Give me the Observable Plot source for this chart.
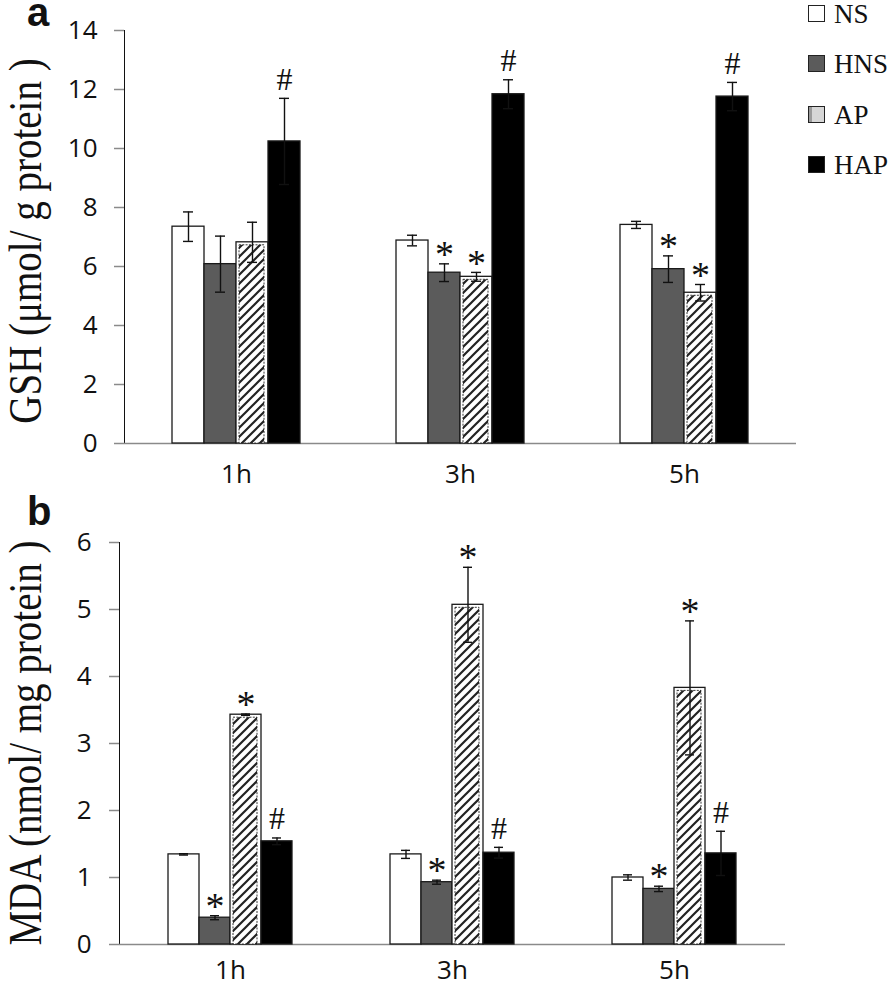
<!DOCTYPE html>
<html>
<head>
<meta charset="utf-8">
<script src="https://cdn.jsdelivr.net/npm/d3@7"></script>
<script src="https://cdn.jsdelivr.net/npm/@observablehq/plot@0.6"></script>
<style>
  html, body { margin: 0; padding: 0; background: #fff; }
  #wrap { position: relative; width: 896px; height: 988px; overflow: hidden; background: #fff; }
  .panel { position: absolute; left: 0; }
  .letter { position: absolute; font-family: "Liberation Sans", Arial, sans-serif; font-weight: bold; font-size: 40px; line-height: 16px; color: #111; }
  .ylab { position: absolute; font-family: "Liberation Serif", "Times New Roman", serif; font-size: 39px; line-height: 39px; white-space: nowrap; color: #111; transform: translate(-50%, -50%) rotate(-90deg) scale(1, 1.18); }
  .legend { position: absolute; left: 808px; top: 0; font-family: "Liberation Serif", "Times New Roman", serif; font-size: 27px; color: #111; }
  .legend .row { position: absolute; left: 0; height: 30px; width: 88px; }
  .legend .sw { position: absolute; left: 0; width: 15px; height: 15px; border: 1.2px solid #222; }
  .legend .lb { position: absolute; left: 26px; line-height: 30px; white-space: nowrap; }
</style>
</head>
<body>
<svg width="0" height="0" style="position:absolute">
  <defs>
    <pattern id="hatch" patternUnits="userSpaceOnUse" width="9" height="9">
      <rect width="9" height="9" fill="#fff"></rect>
      <path d="M-2,2 l4,-4 M0,9 l9,-9 M7,11 l4,-4" stroke="#222" stroke-width="2.2"></path>
    </pattern>
  </defs>
</svg>
<div id="wrap"></div>
<script>
// ---- data ----
const times = ["1h", "3h", "5h"];
const groups = ["NS", "HNS", "AP", "HAP"];
const groupColors = ["#ffffff", "#5b5b5b", "#ffffff", "#000000"];

// GSH (µmol/g protein), rows = groups (NS, HNS, AP, HAP), cols = times
const gshMean = [
  [7.35, 6.88, 7.41],
  [6.08, 5.79, 5.91],
  [6.82, 5.65, 5.11],
  [10.24, 11.84, 11.76]
];
const gshErr = [
  [0.50, 0.18, 0.12],
  [0.95, 0.30, 0.45],
  [0.68, 0.15, 0.28],
  [1.46, 0.49, 0.48]
];
const gshSig = [
  ["", "", ""],
  ["", "*", "*"],
  ["", "*", "*"],
  ["#", "#", "#"]
];
const gshTicks = [0, 2, 4, 6, 8, 10, 12, 14];

// MDA (nmol/mg protein)
const mdaMean = [
  [1.345, 1.345, 1.00],
  [0.40, 0.93, 0.83],
  [3.43, 5.07, 3.83],
  [1.54, 1.37, 1.36]
];
const mdaErr = [
  [0.01, 0.06, 0.04],
  [0.03, 0.03, 0.04],
  [0.01, 0.56, 1.00],
  [0.05, 0.08, 0.33]
];
const mdaSig = [
  ["", "", ""],
  ["*", "*", "*"],
  ["*", "*", "*"],
  ["#", "#", "#"]
];
const mdaTicks = [0, 1, 2, 3, 4, 5, 6];

function buildRows(means, errs, sigs) {
  const rows = [];
  groups.forEach((g, gi) => times.forEach((t, ti) => rows.push({
    time: t, group: g, v: means[gi][ti], e: errs[gi][ti], m: sigs[gi][ti]
  })));
  return rows;
}

function panel(o) {
  const data = buildRows(o.means, o.errs, o.sigs);
  const serif = "'Liberation Serif', 'Times New Roman', serif";
  const svg = Plot.plot({
    width: o.width, height: o.height,
    marginLeft: o.marginLeft, marginRight: o.marginRight,
    marginTop: o.marginTop, marginBottom: o.marginBottom,
    style: { fontFamily: "'Open Sans', sans-serif", fontSize: "26px", color: "#111", background: "transparent", overflow: "visible" },
    facet: { data, x: "time" },
    fx: { domain: times, padding: 0, axis: "bottom", label: null, tickSize: 0, tickPadding: o.fxPad },
    x: { domain: groups, paddingInner: 0, paddingOuter: o.outer, axis: null },
    y: { domain: [0, o.ticks[o.ticks.length - 1]], ticks: o.ticks, tickFormat: d => String(d), tickSize: 10, tickPadding: o.tickPad, label: null, line: true },
    color: { domain: groups, range: groupColors },
    marks: [
      Plot.ruleY([0], { stroke: "#8a8a8a", strokeWidth: 1.5 }),
      Plot.barY(data, { x: "group", y: "v", fill: "group", stroke: "#1a1a1a", strokeWidth: 1.3 }),
      Plot.barY(data, { filter: d => d.group === "AP", x: "group", y: "v", fill: "url(#hatch)", stroke: "#222", strokeWidth: 0.9, strokeDasharray: "2,1.3", insetLeft: 3, insetRight: 4, insetTop: 3 }),
      Plot.ruleX(data, { x: "group", y1: d => d.v - d.e, y2: d => d.v + d.e, stroke: "#111", strokeWidth: 1.4 }),
      Plot.tickY(data, { x: "group", y: d => d.v + d.e, insetLeft: 11, insetRight: 11, stroke: "#111", strokeWidth: 1.4 }),
      Plot.tickY(data, { x: "group", y: d => d.v - d.e, insetLeft: 11, insetRight: 11, stroke: "#111", strokeWidth: 1.4 }),
      Plot.text(data, { filter: d => d.m === "*", x: "group", y: d => d.v + d.e, text: "m", dy: -9, fontSize: 38, fontFamily: serif, fill: "#111" }),
      Plot.text(data, { filter: d => d.m === "#", x: "group", y: d => d.v + d.e, text: "m", dy: -19, fontSize: 32, fontFamily: serif, fill: "#111" })
    ]
  });
  // axis styling: gray lines, dark text
  svg.querySelectorAll('g[aria-label^="y-axis"] path, g[aria-label^="y-axis"] line').forEach(el => { el.setAttribute("stroke", "#8a8a8a"); el.style.stroke = "#8a8a8a"; el.style.strokeWidth = "1.5"; });
  svg.querySelectorAll('g[aria-label^="y-axis"] text, g[aria-label^="fx-axis"] text').forEach(el => {
    el.style.fontSize = "26px";
    el.style.fill = "#111";
  });
  return svg;
}

const wrap = document.getElementById("wrap");

const pa = panel({ means: gshMean, errs: gshErr, sigs: gshSig, ticks: gshTicks,
  width: 820, height: 488, marginLeft: 123, marginRight: 24, marginTop: 30, marginBottom: 45,
  outer: 1.46, fxPad: 21, tickPad: 17 });
pa.classList.add("panel"); pa.style.top = "0px";
wrap.appendChild(pa);

const pb = panel({ means: mdaMean, errs: mdaErr, sigs: mdaSig, ticks: mdaTicks,
  width: 810, height: 500, marginLeft: 118, marginRight: 24, marginTop: 54, marginBottom: 44,
  outer: 1.52, fxPad: 16, tickPad: 18 });
pb.classList.add("panel"); pb.style.top = "488px";
wrap.appendChild(pb);

// panel letters
function addDiv(cls, text, css) {
  const d = document.createElement("div");
  d.className = cls; d.textContent = text;
  Object.assign(d.style, css);
  wrap.appendChild(d);
  return d;
}
addDiv("letter", "a", { left: "27px", top: "4px" });
addDiv("letter", "b", { left: "27px", top: "503px" });

// y-axis titles
addDiv("ylab", "GSH (\u03bcmol/ g protein )", { left: "24.5px", top: "241px" });
addDiv("ylab", "MDA (nmol/ mg protein )", { left: "24.5px", top: "743px" });

// legend
const legend = document.createElement("div");
legend.className = "legend";
const legendY = [14, 64, 115, 165];
const legendFill = ["#ffffff", "#5b5b5b", "#d4d4d4", "#000000"];
groups.forEach((g, i) => {
  const row = document.createElement("div");
  row.className = "row";
  row.style.top = (legendY[i] - 15) + "px";
  const sw = document.createElement("div");
  sw.className = "sw";
  sw.style.top = "6px";
  sw.style.background = legendFill[i];
  if (g === "AP") sw.style.background = "linear-gradient(90deg, #9a9a9a 0 3px, #d6d6d6 3px)";
  const lb = document.createElement("div");
  lb.className = "lb"; lb.textContent = g; lb.style.top = "0px";
  row.appendChild(sw); row.appendChild(lb);
  legend.appendChild(row);
});
wrap.appendChild(legend);
</script>
</body>
</html>
